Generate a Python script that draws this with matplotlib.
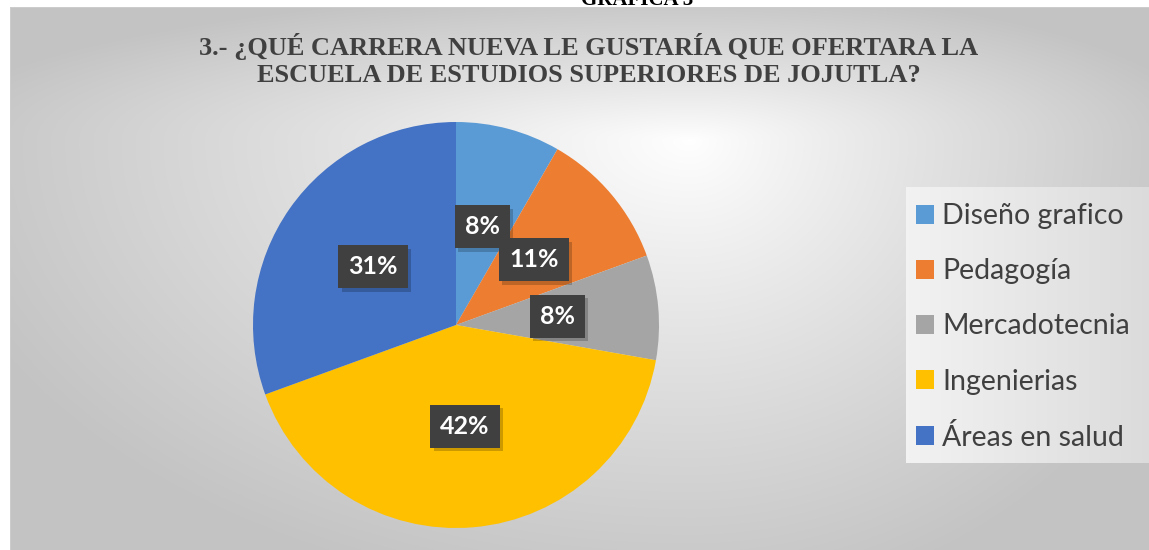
"""Pie chart: preferred new degree at the Escuela de Estudios Superiores de Jojutla."""
import numpy as np
import matplotlib.pyplot as plt
import matplotlib.patheffects as pe

W, H, DPI = 1149, 550, 100

CATEGORIES = ["Diseño grafico", "Pedagogía", "Mercadotecnia", "Ingenierias", "Áreas en salud"]
COUNTS = [3, 4, 3, 15, 11]
COLOURS = ["#5B9BD5", "#ED7D31", "#A5A5A5", "#FFC000", "#4472C4"]

TITLE = ("3.- ¿QUÉ CARRERA NUEVA LE GUSTARÍA QUE OFERTARA LA\n"
         "ESCUELA DE ESTUDIOS SUPERIORES DE JOJUTLA?")
CAPTION = "GRAFICA 3"


def background():
    # grey "from centre" gradient of the chart area, plus the lighter legend panel
    yy, xx = np.mgrid[0:H, 0:W].astype(float)
    cx, cy = 690.0, 140.0
    dx = np.where(xx < cx, (cx - xx) / (cx - 10), (xx - cx) / (W - cx))
    dy = np.where(yy < cy, (cy - yy) / (cy - 8), (yy - cy) / (H - cy))
    t = np.clip(np.sqrt(dx ** 2 + dy ** 2) / 1.15, 0, 1) ** 0.9
    grey = 1.0 - t * (1.0 - 0.765)
    leg = (xx >= 906) & (yy >= 187) & (yy <= 462)
    lt = (xx - 906) / (W - 906)
    grey = np.where(leg, 0.95 - 0.09 * lt, grey)
    grey[:7, :] = 1.0
    grey[:, :10] = 1.0
    grey[7, 10:] = 0.80
    grey[7:, 10] = 0.80
    return np.dstack([grey, grey, grey])


def main():
    fig = plt.figure(figsize=(W / DPI, H / DPI), dpi=DPI)
    bg = fig.add_axes([0, 0, 1, 1])
    bg.imshow(background(), aspect="auto", interpolation="bilinear")
    bg.set_axis_off()

    # pie: centre (456, 325), radius ~203 px
    ax = fig.add_axes([253 / W, (H - 528) / H, 406 / W, 406 / H])
    wedges, _, autotexts = ax.pie(
        COUNTS, colors=COLOURS, startangle=90, counterclock=False,
        autopct=lambda p: f"{p:.0f}%", pctdistance=0.5, radius=1,
        wedgeprops=dict(linewidth=0),
        textprops=dict(color="white", fontsize=18, fontweight="bold", family="Lato"),
    )
    ax.set_xlim(-1, 1)
    ax.set_ylim(-1, 1)
    ax.set_aspect("equal")
    ax.set_axis_off()

    for t in autotexts:
        t.set_bbox(dict(boxstyle="square,pad=0.4", facecolor="#404040", linewidth=0))
        t.get_bbox_patch().set_path_effects([
            pe.SimplePatchShadow(offset=(2.5, -2.5), shadow_rgbFace="black", alpha=0.2),
            pe.Normal(),
        ])

    fig.text(589 / W, 1 - 60 / H, TITLE, ha="center", va="center",
             family="Liberation Serif", fontweight="bold", fontsize=19,
             color="#404040", linespacing=1.2)
    fig.text(637 / W, 1 - 5 / H, CAPTION, ha="center", va="baseline",
             family="Liberation Serif", fontweight="bold", fontsize=15, color="black")

    fig.legend(
        wedges, CATEGORIES, loc="center left",
        bbox_to_anchor=(896 / W, 1 - 327 / H), frameon=False,
        prop=dict(family="Lato", size=20.5), labelcolor="#404040",
        handlelength=0.62, handleheight=0.62, handletextpad=0.3, labelspacing=1.02,
        borderpad=0.2,
    )

    fig.savefig("out.png", dpi=DPI)


if __name__ == "__main__":
    main()
